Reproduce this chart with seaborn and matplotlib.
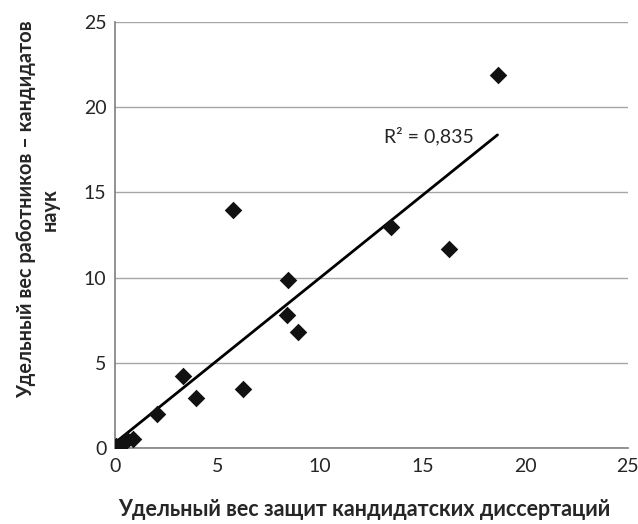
import numpy as np
import pandas as pd
import seaborn as sns
import matplotlib.pyplot as plt

# Data
x_defenses = [0.05, 0.3, 0.6, 0.9, 2.05, 3.3, 3.95, 5.75, 6.25, 8.4, 8.45, 8.95, 13.45, 16.3, 18.65]
y_staff = [0.1, 0.2, 0.45, 0.5, 2.0, 4.25, 2.95, 13.95, 3.45, 7.8, 9.85, 6.8, 12.95, 11.7, 21.9]

x_ticks = [0, 5, 10, 15, 20, 25]
y_ticks = [0, 5, 10, 15, 20, 25]

df = pd.DataFrame({"x": x_defenses, "y": y_staff})

sns.set_style("white")
plt.rcParams['font.family'] = ['Lato', 'DejaVu Sans']

fig = plt.figure(figsize=(6.38, 5.24), dpi=100)
ax = fig.add_axes([0.180, 0.145, 0.804, 0.813])

ax.yaxis.grid(True, color="#a6a6a6", linewidth=1)
ax.set_axisbelow(True)

sns.regplot(data=df, x="x", y="y", ax=ax, ci=None, marker="D",
            scatter_kws={"s": 80, "color": "#111111", "alpha": 1, "linewidths": 0, "zorder": 3},
            line_kws={"color": "black", "linewidth": 2, "zorder": 2})

# R² of the linear trend (shown as in the original, rounded)
r2 = np.corrcoef(df["x"], df["y"])[0, 1] ** 2
ax.text(15.3, 18.3, "R² = 0,835", fontsize=14, ha="center", va="center")

ax.set_xlim(0, 25)
ax.set_ylim(0, 25)
ax.set_xticks(x_ticks)
ax.set_yticks(y_ticks)
ax.tick_params(axis="both", labelsize=14, length=0)
ax.tick_params(axis="y", pad=6)
ax.tick_params(axis="x", pad=7)

for side in ["top", "right"]:
    ax.spines[side].set_visible(False)
for side in ["left", "bottom"]:
    ax.spines[side].set_color("#7f7f7f")
    ax.spines[side].set_linewidth(1.2)

ax.set_xlabel("Удельный вес защит кандидатских диссертаций", fontsize=15.5, fontweight="bold")
ax.set_ylabel("Удельный вес работников – кандидатов\nнаук", fontsize=14.3, fontweight="bold",
              multialignment="center")
ax.xaxis.set_label_coords(0.487, -0.12)
ax.yaxis.set_label_coords(-0.108, 0.56)

fig.savefig("out.png", dpi=100)
